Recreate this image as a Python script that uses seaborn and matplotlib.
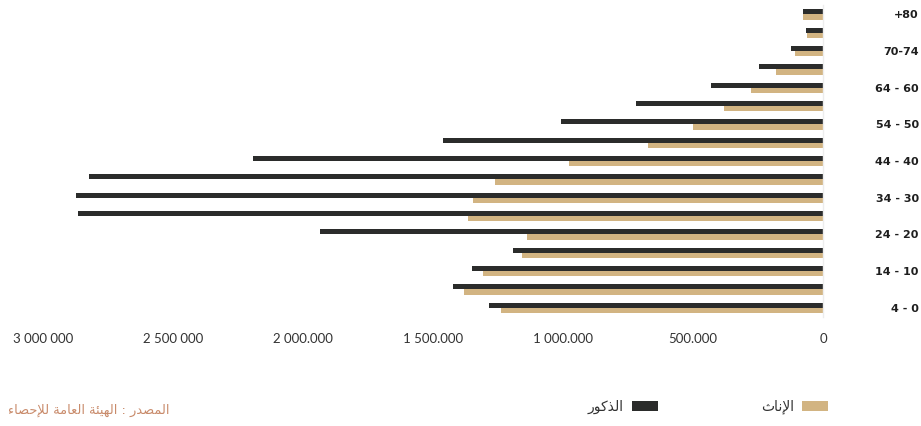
import matplotlib
matplotlib.use("Agg")
import matplotlib.pyplot as plt
from matplotlib.patches import Patch
import seaborn as sns
import pandas as pd

# Age groups, oldest at the top
age_groups = ["80+", "75-79", "70-74", "65-69", "60-64", "55-59", "50-54",
              "45-49", "40-44", "35-39", "30-34", "25-29", "20-24",
              "15-19", "10-14", "5-9", "0-4"]
# Labels drawn on the right (every other group)
age_labels = ["+80", "", "70-74", "", "64 - 60", "", "54 - 50", "",
              "44 - 40", "", "34 - 30", "", "24 - 20", "", "14 - 10", "", "4 - 0"]

males = [77000, 65000, 123000, 246000, 431000, 719000, 1008000, 1462000,
         2192000, 2823000, 2873000, 2865000, 1935000, 1192000, 1350000,
         1423000, 1285000]
females = [77000, 62000, 108000, 181000, 277000, 381000, 500000, 673000,
           977000, 1262000, 1346000, 1365000, 1138000, 1158000, 1308000,
           1381000, 1238000]

x_ticks = [3000000, 2500000, 2000000, 1500000, 1000000, 500000, 0]
x_tick_labels = ["3 000 000", "2 500 000", "2 000.000", "1 500.000",
                 "1 000.000", "500.000", "0"]

male_name = "الذكور"
female_name = "الإناث"
source_text = "المصدر : الهيئة العامة للإحصاء"

DARK = "#2b2c2b"
TAN = "#d2b482"

# --- minimal Arabic shaping (contextual forms + lam-alef) for display ---
FORMS = {
    "ا": ("\uFE8D", "\uFE8E", None, None),
    "إ": ("\uFE87", "\uFE88", None, None),
    "أ": ("\uFE83", "\uFE84", None, None),
    "د": ("\uFEA9", "\uFEAA", None, None),
    "ذ": ("\uFEAB", "\uFEAC", None, None),
    "ر": ("\uFEAD", "\uFEAE", None, None),
    "و": ("\uFEED", "\uFEEE", None, None),
    "ة": ("\uFE93", "\uFE94", None, None),
    "ل": ("\uFEDD", "\uFEDE", "\uFEDF", "\uFEE0"),
    "م": ("\uFEE1", "\uFEE2", "\uFEE3", "\uFEE4"),
    "ص": ("\uFEB9", "\uFEBA", "\uFEBB", "\uFEBC"),
    "ه": ("\uFEE9", "\uFEEA", "\uFEEB", "\uFEEC"),
    "ي": ("\uFEF1", "\uFEF2", "\uFEF3", "\uFEF4"),
    "ئ": ("\uFE89", "\uFE8A", "\uFE8B", "\uFE8C"),
    "ع": ("\uFEC9", "\uFECA", "\uFECB", "\uFECC"),
    "ح": ("\uFEA1", "\uFEA2", "\uFEA3", "\uFEA4"),
    "ك": ("\uFED9", "\uFEDA", "\uFEDB", "\uFEDC"),
    "ن": ("\uFEE5", "\uFEE6", "\uFEE7", "\uFEE8"),
    "ث": ("\uFE99", "\uFE9A", "\uFE9B", "\uFE9C"),
    "ء": ("\uFE80", None, None, None),
    "لا": ("\uFEFB", "\uFEFC", None, None),
    "لإ": ("\uFEF9", "\uFEFA", None, None),
    "لأ": ("\uFEF7", "\uFEF8", None, None),
}


def joins_left(c):
    f = FORMS.get(c)
    return f is not None and f[2] is not None


def joins_right(c):
    f = FORMS.get(c)
    return f is not None and f[1] is not None


def shape_ar(text):
    units = []
    i = 0
    while i < len(text):
        if text[i] == "ل" and i + 1 < len(text) and text[i + 1] in "اإأ":
            units.append(text[i:i + 2])
            i += 2
        else:
            units.append(text[i])
            i += 1
    out = []
    for k, u in enumerate(units):
        if u not in FORMS:
            out.append(u)
            continue
        prev = units[k - 1] if k > 0 else None
        nxt = units[k + 1] if k + 1 < len(units) else None
        p = prev is not None and joins_left(prev) and joins_right(u)
        n = nxt is not None and joins_left(u) and joins_right(nxt)
        iso, fin, ini, med = FORMS[u]
        if p and n:
            out.append(med)
        elif p:
            out.append(fin)
        elif n:
            out.append(ini)
        else:
            out.append(iso)
    return "".join(out)[::-1]


# --- data table ---
df = pd.DataFrame({
    "age": age_groups * 2,
    "population": males + females,
    "sex": [male_name] * len(age_groups) + [female_name] * len(age_groups),
})

sns.set_theme(style="white")
plt.rcParams["font.family"] = ["Lato", "DejaVu Sans"]

fig = plt.figure(figsize=(9.21, 4.26), dpi=100)
ax = fig.add_axes([10 / 921, 1 - 317 / 426, (823 - 10) / 921, (317 - 5.3) / 426])

sns.barplot(data=df, y="age", x="population", hue="sex", orient="h",
            order=age_groups, hue_order=[male_name, female_name],
            palette=[DARK, TAN], width=0.56, saturation=1, linewidth=0,
            legend=False, ax=ax)

ax.set_xlim((823 - 10) / 260 * 1e6, 0)
ax.set_xlabel("")
ax.set_ylabel("")

for side in ["top", "left", "bottom"]:
    ax.spines[side].set_visible(False)
ax.spines["right"].set_color("#ededed")
ax.spines["right"].set_linewidth(1.0)

ax.set_xticks(x_ticks)
ax.set_xticklabels(x_tick_labels, fontsize=9.5, color="#333333")
ax.tick_params(axis="x", length=0, pad=11.5)

ax.set_yticks(range(len(age_groups)))
ax.set_yticklabels(age_labels)
ax.tick_params(axis="y", left=False, right=False, labelleft=False,
               labelright=True, length=0, pad=69)
for lab in ax.get_yticklabels():
    lab.set_ha("right")
    lab.set_family("DejaVu Sans")
    lab.set_fontweight("bold")
    lab.set_fontsize(8)
    lab.set_color("#1e1e1e")

# legend (right-to-left: text before swatch)
handles = [Patch(facecolor=DARK, edgecolor="none"),
           Patch(facecolor=TAN, edgecolor="none")]
fig.legend(handles, [shape_ar(male_name), shape_ar(female_name)],
           loc="center right", bbox_to_anchor=(828 / 921, 1 - 407 / 426),
           ncol=2, markerfirst=False, frameon=False,
           prop={"family": "DejaVu Sans", "size": 10},
           handlelength=1.85, handleheight=0.8, handletextpad=0.6,
           columnspacing=7.45, borderaxespad=0, borderpad=0,
           labelcolor="#333333")

fig.text(8 / 921, 1 - 410 / 426, shape_ar(source_text), ha="left",
         va="center", fontsize=9.4, color="#c98b6b", family="DejaVu Sans")

fig.savefig("out.png", dpi=100)
